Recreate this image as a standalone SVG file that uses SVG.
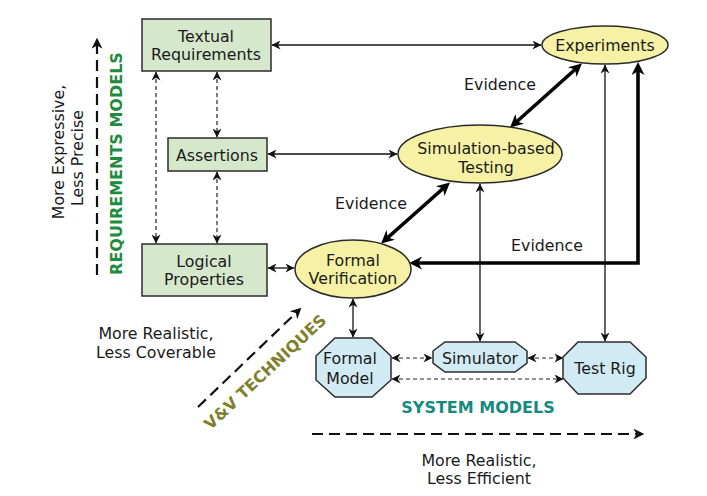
<svg xmlns="http://www.w3.org/2000/svg" width="707" height="496" viewBox="0 0 707 496">
<style>
text{font-family:"DejaVu Sans","Noto Sans",sans-serif;font-size:15.8px;fill:#1a1a1a;text-anchor:middle}
.box{fill:#d5e8cc;stroke:#2b2b2b;stroke-width:1.5}
.ell{fill:#f6f1a4;stroke:#2b2b2b;stroke-width:1.5}
.oct{fill:#d2eaf4;stroke:#2b2b2b;stroke-width:1.5}
.thin{fill:none;stroke:#111;stroke-width:1.3;marker-start:url(#a);marker-end:url(#a)}
.dash{fill:none;stroke:#222;stroke-width:1.2;stroke-dasharray:4 3;marker-start:url(#a);marker-end:url(#a)}
.thick{fill:none;stroke:#000;stroke-width:3.6;marker-start:url(#b);marker-end:url(#b)}
.axis{fill:none;stroke:#111;stroke-width:2.2;stroke-dasharray:11 6;marker-end:url(#c)}
.lbl{font-weight:bold;font-size:16px}
</style>
<defs>
<marker id="a" viewBox="0 0 10 10" refX="9.5" refY="5" markerWidth="10" markerHeight="9" markerUnits="userSpaceOnUse" orient="auto-start-reverse"><path d="M0,0 L10,5 L0,10 L3,5 z" fill="#111"/></marker>
<marker id="b" viewBox="0 0 10 10" refX="7" refY="5" markerWidth="15" markerHeight="13" markerUnits="userSpaceOnUse" orient="auto-start-reverse"><path d="M0,0 L10,5 L0,10 L3,5 z" fill="#000"/></marker>
<marker id="c" viewBox="0 0 10 10" refX="7" refY="5" markerWidth="13" markerHeight="11" markerUnits="userSpaceOnUse" orient="auto"><path d="M0,0 L10,5 L0,10 L3,5 z" fill="#111"/></marker>
</defs>

<g id="connectors">
<path class="thin" d="M272,45 H541"/>
<path class="thin" d="M268,154 H397"/>
<path class="thin" d="M268,268 H294"/>
<path class="dash" d="M156,72 V243"/>
<path class="dash" d="M217,72 V137"/>
<path class="dash" d="M217,172 V243"/>
<path class="thick" d="M513,125 L579,66"/>
<path class="thick" d="M447,185 L384,241"/>
<path class="thick" d="M413,263 H638 V66"/>
<path class="thin" d="M353,299 V337"/>
<path class="thin" d="M480,184 V341"/>
<path class="thin" d="M605,65 V341"/>
<path class="dash" d="M392,358 H432"/>
<path class="dash" d="M528,358 H563"/>
<path class="dash" d="M392,379 H563"/>
</g>

<g id="axes">
<path class="axis" d="M97,275 V41"/>
<path class="axis" d="M198,407 L299,310"/>
<path class="axis" d="M312,434 H641"/>
</g>

<g id="textual-requirements">
<rect class="box" x="142" y="19" width="129" height="52"/>
<text x="206" y="41.5">Textual</text>
<text x="206" y="60">Requirements</text>
</g>
<g id="assertions">
<rect class="box" x="168" y="138" width="99" height="33"/>
<text x="217" y="160.5">Assertions</text>
</g>
<g id="logical-properties">
<rect class="box" x="142" y="244" width="125" height="52"/>
<text x="204" y="266.5">Logical</text>
<text x="204" y="285">Properties</text>
</g>

<g id="experiments">
<ellipse class="ell" cx="605" cy="45" rx="63" ry="19"/>
<text x="605" y="50.7">Experiments</text>
</g>
<g id="simulation-based-testing">
<ellipse class="ell" cx="480" cy="154" rx="82" ry="29"/>
<text x="486" y="154">Simulation-based</text>
<text x="486" y="172.5">Testing</text>
</g>
<g id="formal-verification">
<ellipse class="ell" cx="353" cy="269" rx="58" ry="29"/>
<text x="353" y="265.8">Formal</text>
<text x="353" y="284">Verification</text>
</g>

<g id="formal-model">
<polygon class="oct" points="335,338 372,338 391,356 391,380 372,397 335,397 316,380 316,356"/>
<text x="350" y="364">Formal</text>
<text x="350" y="383.5">Model</text>
</g>
<g id="simulator">
<polygon class="oct" points="445,342 515,342 527,351 527,363 515,372 445,372 433,363 433,351"/>
<text x="480" y="363.5">Simulator</text>
</g>
<g id="test-rig">
<polygon class="oct" points="578,342 630,342 646,357 646,378 630,394 578,394 563,378 563,357"/>
<text x="605" y="374">Test Rig</text>
</g>

<g id="labels">
<text x="500" y="89.7">Evidence</text>
<text x="371" y="208.5">Evidence</text>
<text x="547" y="250.7">Evidence</text>
<text transform="translate(64,152) rotate(-90)">More Expressive,</text>
<text transform="translate(82.5,158) rotate(-90)">Less Precise</text>
<text class="lbl" transform="translate(121.5,163.5) rotate(-90)" style="fill:#1f8c3c">REQUIREMENTS MODELS</text>
<text x="156" y="339">More Realistic,</text>
<text x="156" y="357.5">Less Coverable</text>
<text class="lbl" transform="translate(269,376) rotate(-43)" style="fill:#7f7f2c">V&amp;V TECHNIQUES</text>
<text class="lbl" x="478" y="412.5" style="fill:#178a80">SYSTEM MODELS</text>
<text x="479" y="465.7">More Realistic,</text>
<text x="479" y="483.7">Less Efficient</text>
</g>
</svg>
